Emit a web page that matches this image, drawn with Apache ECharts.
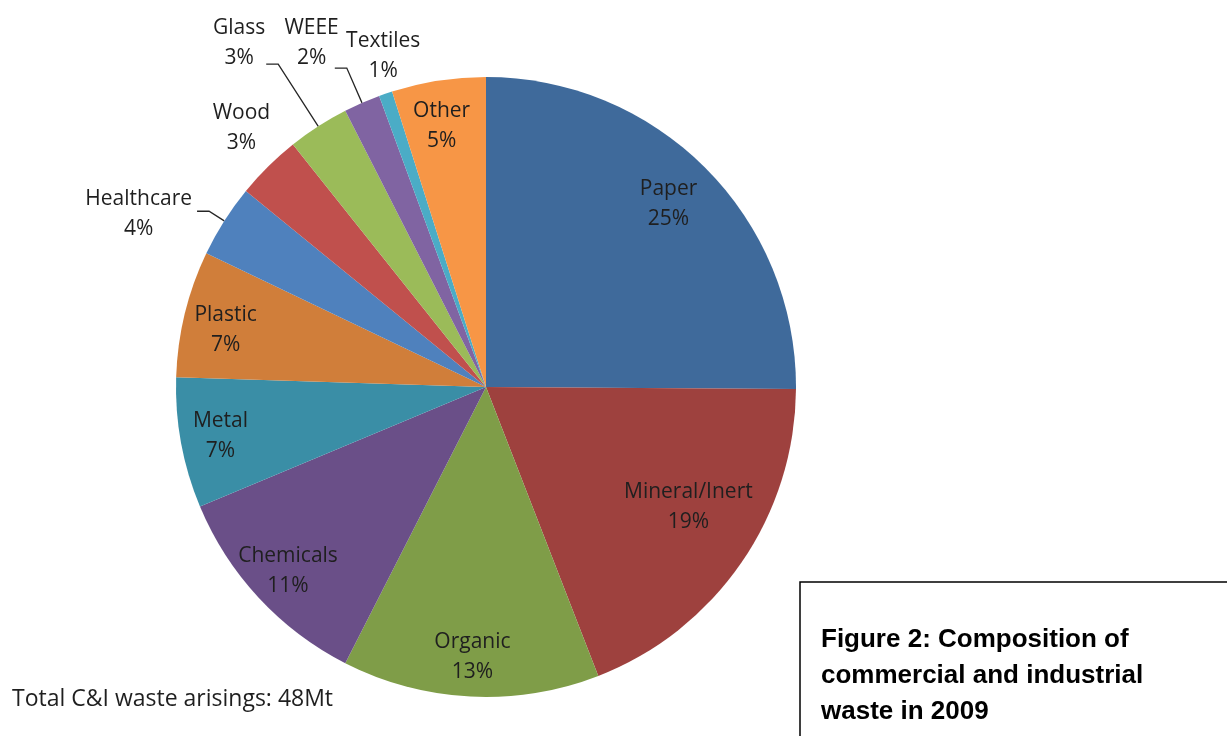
<!DOCTYPE html>
<html>
<head>
<meta charset="utf-8">
<script src="https://cdn.jsdelivr.net/npm/echarts@6/dist/echarts.min.js"></script>
<style>
  html, body { margin: 0; padding: 0; background: #fff; }
  #main { width: 1227px; height: 736px; }
</style>
</head>
<body>
<div id="main"></div>
<script>
var categories = ['Paper', 'Mineral/Inert', 'Organic', 'Chemicals', 'Metal', 'Plastic',
                  'Healthcare', 'Wood', 'Glass', 'WEEE', 'Textiles', 'Other'];
// shares in %
var shares = [25.1, 19.0, 13.4, 11.2, 6.8, 6.6, 3.8, 3.4, 3.2, 1.9, 0.7, 4.9];
var colors = ['#3f6a9b', '#9e413e', '#7f9d48', '#6a4f88', '#3a8ea6', '#d07e3a',
              '#4f81bd', '#c0504d', '#9bbb59', '#8064a2', '#4bacc6', '#f79646'];
var outsideNames = ['Healthcare', 'Wood', 'Glass', 'WEEE', 'Textiles'];
var noLineNames = ['Wood', 'Textiles'];

// nudges so labels sit where excel's "best fit" put them
var labelShift = {
    'Paper': [-9, 7],
    'Mineral/Inert': [-20, -33],
    'Plastic': [2, 7],
    'Other': [-3, 6],
    'Healthcare': [0, 3],
    'Glass': [4, -21],
    'WEEE': [9, -25],
    'Wood': [14, -31],
    'Textiles': [43, -28]
};

var myChart = echarts.init(document.getElementById('main'));

var pieData = categories.map(function (c, i) {
    return { name: c, value: shares[i], itemStyle: { color: colors[i] } };
});

// label-only copy of the data: outside ones get leader lines
var labelData = categories.map(function (c, i) {
    var item = { name: c, value: shares[i] };
    if (outsideNames.indexOf(c) >= 0) {
        item.label = { position: 'outside' };
        item.labelLine = { show: noLineNames.indexOf(c) < 0, length: 18, length2: 12 };
        if (c === 'Glass') item.labelLine.length = 74;
        if (c === 'WEEE') item.labelLine.length = 38;
        if (c === 'Wood' || c === 'Textiles') {
            item.labelLine.length = 10;
            item.labelLine.length2 = 0;
        }
    }
    return item;
});

var labelFont = {
    fontFamily: 'Open Sans',
    fontSize: 21,
    color: '#1f1f1f',
    lineHeight: 30,
    align: 'center'
};

var option = {
    backgroundColor: '#ffffff',
    animation: false,
    series: [
        {
            type: 'pie',
            center: [486, 387],
            radius: 310,
            startAngle: 90,
            clockwise: true,
            silent: true,
            label: { show: false },
            labelLine: { show: false },
            itemStyle: { borderWidth: 0 },
            data: pieData
        },
        {
            type: 'pie',
            center: [486, 387],
            radius: [224, 310],
            startAngle: 90,
            clockwise: true,
            silent: true,
            avoidLabelOverlap: false,
            itemStyle: { color: 'rgba(0,0,0,0)', borderWidth: 0 },
            label: {
                show: true,
                position: 'inside',
                formatter: function (p) {
                    return '{t|' + p.name + '}\n{t|' + Math.round(p.value) + '%}';
                },
                rich: { t: labelFont }
            },
            labelLine: {
                lineStyle: { color: '#262626', width: 1.3 }
            },
            labelLayout: function (p) {
                var s = labelShift[categories[p.dataIndex]] || [0, 0];
                return { dx: s[0], dy: s[1], hideOverlap: false, moveOverlap: null };
            },
            data: labelData
        }
    ],
    graphic: [
        {
            type: 'text',
            left: 12,
            top: 688,
            style: {
                text: 'Total C&I waste arisings: 48Mt',
                fontFamily: 'Open Sans',
                fontSize: 23,
                fill: '#1f1f1f'
            }
        },
        {
            type: 'rect',
            shape: { x: 800, y: 582, width: 440, height: 200 },
            style: { fill: '#ffffff', stroke: '#000000', lineWidth: 1.5 }
        },
        {
            type: 'text',
            left: 821,
            top: 622,
            style: {
                text: 'Figure 2: Composition of\ncommercial and industrial\nwaste in 2009',
                fontFamily: 'Liberation Sans',
                fontWeight: 'bold',
                fontSize: 26,
                lineHeight: 36,
                fill: '#000000'
            }
        }
    ]
};

myChart.setOption(option);
</script>
</body>
</html>
